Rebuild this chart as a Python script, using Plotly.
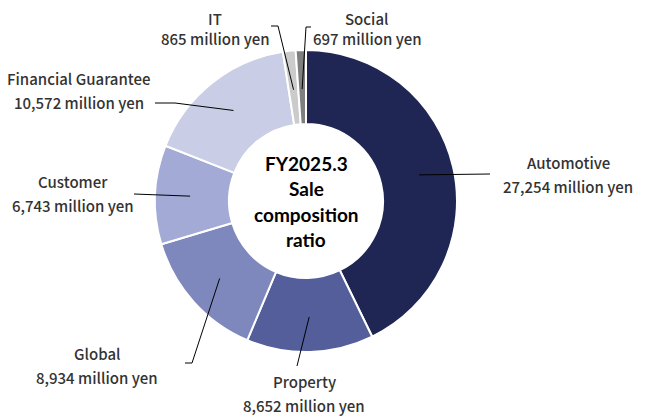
import math
import plotly.graph_objects as go

# ---- data ----
segments = ["Automotive", "Property", "Global", "Customer", "Financial Guarantee", "IT", "Social"]
sales = [27254, 8652, 8934, 6743, 10572, 865, 697]  # million yen
center_title = ["FY2025.3", "Sale", "composition", "ratio"]

# ---- styles / layout positions (page pixels) ----
colors = ["#1F2654", "#535E9A", "#7E88BD", "#A2AAD5", "#C9CDE5", "#CBCBCB", "#7F7F7F"]
PAGE_W, PAGE_H = 650, 420
OFF = 8  # default page body margin
W, H = PAGE_W - OFF, PAGE_H - OFF
CX, CY, R = 306, 201, 151
label_pos = {  # text center x, name line y, value line y
    "Automotive": (568, 162, 186),
    "Property": (304, 381, 405),
    "Global": (97, 353, 377),
    "Customer": (73, 181, 205),
    "Financial Guarantee": (79, 78, 102),
    "IT": (215, 18, 38),
    "Social": (367, 18, 38),
}
leader_tail = {  # outer polyline points of leader lines
    "Automotive": [(490, 174)],
    "Property": [(297, 366)],
    "Global": [(192, 363), (185, 363)],
    "Customer": [(134, 194)],
    "Financial Guarantee": [(175, 103), (155, 103)],
    "IT": [(278, 26), (271, 26)],
    "Social": [(306, 27), (311, 27)],
}
LABEL_FONT = dict(family="Noto Sans CJK JP", size=15, color="#333333", weight=500)

fig = go.Figure()
fig.add_trace(go.Pie(
    labels=segments, values=sales, sort=False, direction="clockwise", rotation=0,
    hole=0.51, marker=dict(colors=colors, line=dict(color="white", width=2)),
    textinfo="none", hoverinfo="label+value", showlegend=False,
    domain=dict(x=[(CX - R - OFF) / W, (CX + R - OFF) / W],
                y=[1 - (CY + R - OFF) / H, 1 - (CY - R - OFF) / H]),
))

total = sum(sales)
cum = 0
shapes, annotations = [], []
for name, v in zip(segments, sales):
    mid = (cum + v / 2) / total * 2 * math.pi
    cum += v
    r_in = 116 if v / total > 0.03 else 112
    x0 = CX + r_in * math.sin(mid)
    y0 = CY - r_in * math.cos(mid)
    pts = [(x0, y0)] + leader_tail[name]
    path = "M " + " L ".join(f"{x},{y}" for x, y in pts)
    shapes.append(dict(type="path", path=path, xref="x", yref="y", layer="above",
                       line=dict(color="#000000", width=1)))
    lx, ly1, ly2 = label_pos[name]
    annotations.append(dict(x=lx, y=ly1, xref="x", yref="y", text=name, showarrow=False,
                            font=LABEL_FONT, xanchor="center", yanchor="middle"))
    annotations.append(dict(x=lx, y=ly2, xref="x", yref="y", text=f"{v:,} million yen",
                            showarrow=False, font=LABEL_FONT,
                            xanchor="center", yanchor="middle"))

for i, t in enumerate(center_title):
    annotations.append(dict(x=CX, y=163 + 25.5 * i, xref="x", yref="y", text=f"<b>{t}</b>",
                            showarrow=False, xanchor="center", yanchor="middle",
                            font=dict(family="Lato", size=19, color="#000000")))

fig.update_layout(
    width=W, height=H, margin=dict(l=0, r=0, t=0, b=0),
    paper_bgcolor="white", plot_bgcolor="rgba(0,0,0,0)",
    xaxis=dict(range=[OFF, PAGE_W], visible=False, fixedrange=True),
    yaxis=dict(range=[PAGE_H, OFF], visible=False, fixedrange=True),
    shapes=shapes, annotations=annotations,
)
fig.write_html("out.html")
